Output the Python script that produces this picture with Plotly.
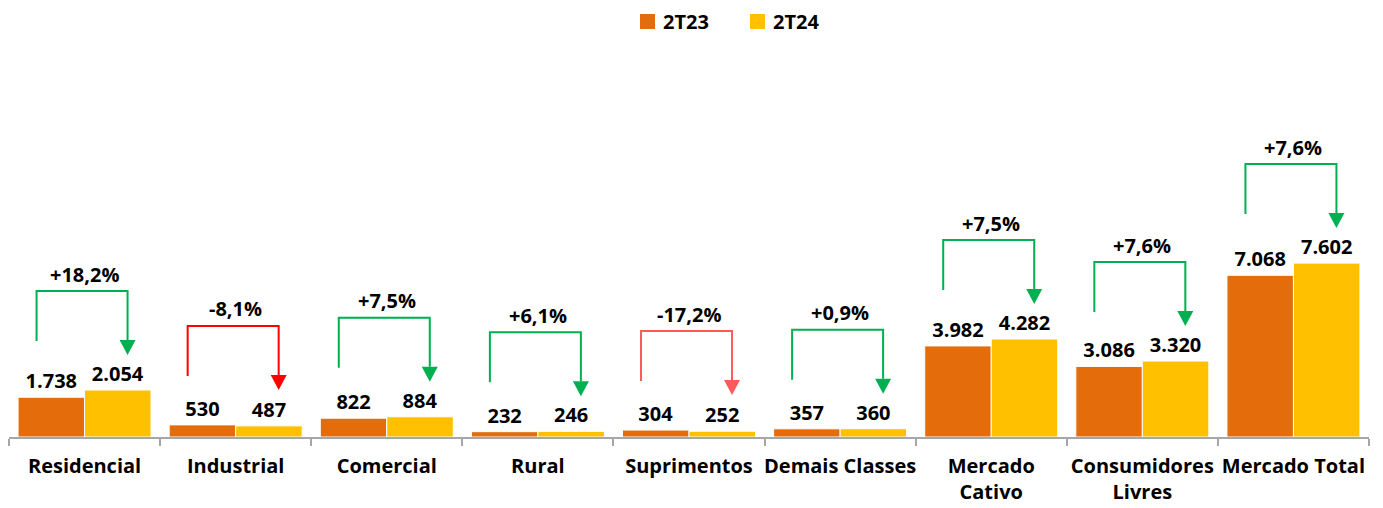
import plotly.graph_objects as go

categories = ["Residencial", "Industrial", "Comercial", "Rural", "Suprimentos",
              "Demais Classes", "Mercado<br>Cativo", "Consumidores<br>Livres", "Mercado Total"]
v_2t23 = [1738, 530, 822, 232, 304, 357, 3982, 3086, 7068]
v_2t24 = [2054, 487, 884, 246, 252, 360, 4282, 3320, 7602]
var_labels = ["+18,2%", "-8,1%", "+7,5%", "+6,1%", "-17,2%", "+0,9%", "+7,5%", "+7,6%", "+7,6%"]


def fmt(v):
    return f"{v:,}".replace(",", ".")


FONT = "Open Sans"
# page body has an 8px margin, so the figure is a bit smaller than the window
W, H = 1375, 500
ML, MR, MT, MB = 1, 14, 52, 71
YMAX = 16480
plot_h = H - MT - MB
plot_w = W - ML - MR
k = YMAX / plot_h          # data units per pixel
cat_w = plot_w / len(categories)


def px_x(p):   # figure pixel -> paper x
    return (p - ML) / plot_w


def px_y(p):   # figure pixel (from top) -> paper y
    return 1 + (MT - p) / plot_h


C23, C24 = "#E46C0A", "#FFC000"

fig = go.Figure()
for name, vals, col in [("2T23", v_2t23, C23), ("2T24", v_2t24, C24)]:
    fig.add_trace(go.Bar(x=categories, y=vals, name=name,
                         marker=dict(color=col, line=dict(color="white", width=1)),
                         text=[fmt(v) for v in vals], textposition="outside",
                         textfont=dict(family=FONT, size=20, color="black", weight="bold"),
                         cliponaxis=False, constraintext="none"))

# legend drawn by hand (bigger squares, wider spacing than plotly's legend)
for j, (name, col) in enumerate([("2T23", C23), ("2T24", C24)]):
    x0 = 632 + j * 110
    fig.add_shape(type="rect", xref="paper", yref="paper",
                  x0=px_x(x0), x1=px_x(x0 + 15), y0=px_y(21), y1=px_y(6),
                  fillcolor=col, line=dict(width=0))
    fig.add_annotation(x=px_x(x0 + 21), y=px_y(13.5), xref="paper", yref="paper",
                       text=name, showarrow=False, xanchor="left", yanchor="middle",
                       font=dict(family=FONT, size=20, color="black", weight="bold"))

# brackets with arrows
for i, (a, b, lab) in enumerate(zip(v_2t23, v_2t24, var_labels)):
    if b >= a:
        col = "#00B050"
    elif i == 4:
        col = "#FF5B5B"
    else:
        col = "#FF0000"
    top = max(a, b) + 99 * k
    xl = i - 48 / cat_w
    xr = i + 43 / cat_w
    hw = 8 / cat_w
    y_left = top - 50 * k
    y_base = top - 49 * k
    y_tip = top - 64 * k
    fig.add_shape(type="path", xref="x", yref="y",
                  path=f"M {xl},{y_left} L {xl},{top} L {xr},{top} L {xr},{y_base}",
                  line=dict(color=col, width=2))
    fig.add_shape(type="path", xref="x", yref="y",
                  path=f"M {xr - hw},{y_base} L {xr + hw},{y_base} L {xr},{y_tip} Z",
                  line=dict(color=col, width=0), fillcolor=col)
    fig.add_annotation(x=i, y=top + 17 * k, text=lab, showarrow=False,
                       xref="x", yref="y", yanchor="middle",
                       font=dict(family=FONT, size=20, color="black", weight="bold"))

fig.update_layout(
    width=W, height=H,
    margin=dict(l=ML, r=MR, t=MT, b=MB, autoexpand=False),
    plot_bgcolor="white", paper_bgcolor="white",
    barmode="group", bargap=0.12, bargroupgap=0,
    showlegend=False,
    font=dict(family=FONT),
)
fig.update_xaxes(showline=True, linecolor="#A6A6A6", linewidth=2,
                 ticks="outside", ticklen=7, tickcolor="#A6A6A6", tickwidth=2,
                 tickson="boundaries", showgrid=False, tickangle=0, automargin=False,
                 ticklabelstandoff=10,
                 tickfont=dict(family=FONT, size=20, color="black", weight="bold"))
fig.update_yaxes(range=[0, YMAX], visible=False, showgrid=False, fixedrange=True)

fig.write_html("out.html")
